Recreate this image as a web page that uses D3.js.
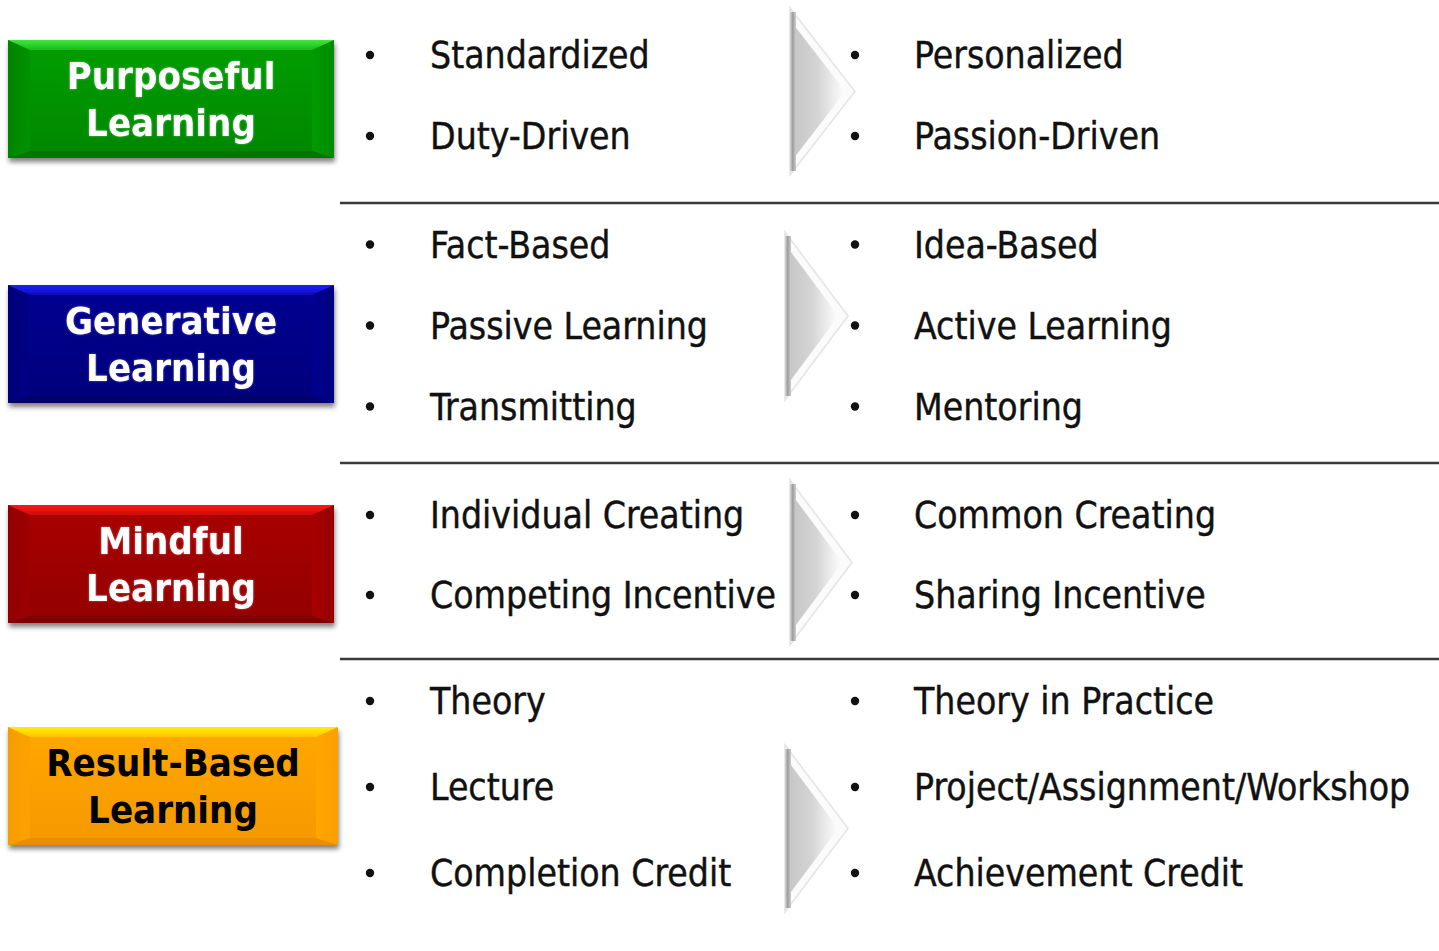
<!DOCTYPE html>
<html>
<head>
<meta charset="utf-8">
<script src="https://cdn.jsdelivr.net/npm/d3@7"></script>
<style>
  html, body { margin: 0; padding: 0; background: #fff; }
  svg { display: block; }
</style>
</head>
<body>
<svg id="chart" width="1439" height="951"></svg>
<script>
// ---- data ----
const categories = [
  ["Purposeful", "Learning"],
  ["Generative", "Learning"],
  ["Mindful", "Learning"],
  ["Result-Based", "Learning"]
];
const fromItems = [
  ["Standardized", "Duty-Driven"],
  ["Fact-Based", "Passive Learning", "Transmitting"],
  ["Individual Creating", "Competing Incentive"],
  ["Theory", "Lecture", "Completion Credit"]
];
const toItems = [
  ["Personalized", "Passion-Driven"],
  ["Idea-Based", "Active Learning", "Mentoring"],
  ["Common Creating", "Sharing Incentive"],
  ["Theory in Practice", "Project/Assignment/Workshop", "Achievement Credit"]
];
const boxPalette = [
  { base: "#009c00", top: "#3ee83e", side: "#008400", bottom: "#007400", text: "#ffffff" },
  { base: "#000090", top: "#2020ff", side: "#000078", bottom: "#000068", text: "#ffffff" },
  { base: "#a80000", top: "#ff1a1a", side: "#900000", bottom: "#800000", text: "#ffffff" },
  { base: "#ffa600", top: "#fff000", side: "#f79c00", bottom: "#e88e00", text: "#000000" }
];

// ---- layout (code constants) ----
const W = 1439, H = 951;
const svg = d3.select("#chart");
const defs = svg.append("defs");

const rowCenter = [95.5, 325.5, 555, 787];
const itemPitch = [81, 81, 80, 86];
const boxRects = [
  { x: 8, y: 40, w: 326, h: 118 },
  { x: 8, y: 285, w: 326, h: 118 },
  { x: 8, y: 505, w: 326, h: 118 },
  { x: 8, y: 727, w: 330, h: 118 }
];
const arrows = [
  { x: 790, y0: 8, y1: 175, w: 65 },
  { x: 785, y0: 232, y1: 400, w: 63 },
  { x: 790, y0: 480, y1: 645, w: 62 },
  { x: 785, y0: 745, y1: 912, w: 63 }
];
const separators = [203, 463, 659];
const xScale = d3.scaleLinear().domain([0, 1]).range([340, W]);

// filters
const sh = defs.append("filter").attr("id", "shadow").attr("x", "-10%").attr("y", "-10%").attr("width", "120%").attr("height", "130%");
sh.append("feGaussianBlur").attr("in", "SourceAlpha").attr("stdDeviation", 2.5).attr("result", "b");
sh.append("feOffset").attr("in", "b").attr("dx", 1).attr("dy", 4).attr("result", "o");
sh.append("feComponentTransfer").attr("in", "o").attr("result", "o2")
  .append("feFuncA").attr("type", "linear").attr("slope", 0.5);
const m = sh.append("feMerge");
m.append("feMergeNode").attr("in", "o2");
m.append("feMergeNode").attr("in", "SourceGraphic");

const glow = defs.append("filter").attr("id", "glow").attr("x", "-10%").attr("y", "-20%").attr("width", "120%").attr("height", "140%");
glow.append("feGaussianBlur").attr("in", "SourceAlpha").attr("stdDeviation", 1.3).attr("result", "gb");
glow.append("feFlood").attr("flood-color", "#ffffff").attr("flood-opacity", 0.4);
glow.append("feComposite").attr("in2", "gb").attr("operator", "in").attr("result", "g");
const gm = glow.append("feMerge");
gm.append("feMergeNode").attr("in", "g");
gm.append("feMergeNode").attr("in", "SourceGraphic");

const soft = defs.append("filter").attr("id", "soft");
soft.append("feGaussianBlur").attr("stdDeviation", 0.7);

const arrowGrad = defs.append("linearGradient").attr("id", "arrowGrad")
  .attr("x1", "0%").attr("x2", "100%").attr("y1", "0%").attr("y2", "0%");
arrowGrad.append("stop").attr("offset", "0%").attr("stop-color", "#c4c4c4");
arrowGrad.append("stop").attr("offset", "50%").attr("stop-color", "#d4d4d4");
arrowGrad.append("stop").attr("offset", "100%").attr("stop-color", "#ffffff");

const stripeGrad = defs.append("linearGradient").attr("id", "stripeGrad")
  .attr("x1", "0%").attr("x2", "100%");
stripeGrad.append("stop").attr("offset", "0%").attr("stop-color", "#d8d8d8");
stripeGrad.append("stop").attr("offset", "45%").attr("stop-color", "#9c9c9c");
stripeGrad.append("stop").attr("offset", "100%").attr("stop-color", "#cfcfcf");

// ---- boxes ----
const bevX = 22, bevT = 10, bevB = 7;
categories.forEach((lines, i) => {
  const r = boxRects[i], c = boxPalette[i];
  const g = svg.append("g").attr("filter", "url(#shadow)");
  const x0 = r.x, y0 = r.y, x1 = r.x + r.w, y1 = r.y + r.h;

  const tg = defs.append("linearGradient").attr("id", "tg" + i).attr("x1", 0).attr("x2", 0).attr("y1", 0).attr("y2", 1);
  tg.append("stop").attr("offset", "0%").attr("stop-color", c.top);
  tg.append("stop").attr("offset", "100%").attr("stop-color", d3.interpolateRgb(c.top, c.base)(0.6));
  const cg = defs.append("linearGradient").attr("id", "cg" + i).attr("x1", 0).attr("x2", 0).attr("y1", 0).attr("y2", 1);
  cg.append("stop").attr("offset", "0%").attr("stop-color", c.base);
  cg.append("stop").attr("offset", "100%").attr("stop-color", d3.interpolateRgb(c.base, c.bottom)(0.5));
  const lg = defs.append("linearGradient").attr("id", "lg" + i).attr("x1", 0).attr("x2", 1).attr("y1", 0).attr("y2", 0);
  lg.append("stop").attr("offset", "0%").attr("stop-color", c.side);
  lg.append("stop").attr("offset", "100%").attr("stop-color", d3.interpolateRgb(c.side, c.base)(0.6));
  const rg = defs.append("linearGradient").attr("id", "rg" + i).attr("x1", 1).attr("x2", 0).attr("y1", 0).attr("y2", 0);
  rg.append("stop").attr("offset", "0%").attr("stop-color", d3.interpolateRgb(c.side, c.base)(0.3));
  rg.append("stop").attr("offset", "100%").attr("stop-color", c.base);

  g.append("rect").attr("x", x0).attr("y", y0).attr("width", r.w).attr("height", r.h).attr("fill", c.base);
  g.append("path").attr("d", `M${x0},${y0}L${x0 + bevX},${y0 + bevT}L${x0 + bevX},${y1 - bevB}L${x0},${y1}Z`).attr("fill", `url(#lg${i})`);
  g.append("path").attr("d", `M${x1},${y0}L${x1 - bevX},${y0 + bevT}L${x1 - bevX},${y1 - bevB}L${x1},${y1}Z`).attr("fill", `url(#rg${i})`);
  g.append("rect").attr("x", x0 + bevX).attr("y", y0 + bevT).attr("width", r.w - 2 * bevX).attr("height", r.h - bevT - bevB)
    .attr("fill", `url(#cg${i})`);
  g.append("path").attr("d", `M${x0},${y0}L${x1},${y0}L${x1 - bevX},${y0 + bevT}L${x0 + bevX},${y0 + bevT}Z`).attr("fill", `url(#tg${i})`);
  g.append("path").attr("d", `M${x0},${y1}L${x1},${y1}L${x1 - bevX},${y1 - bevB}L${x0 + bevX},${y1 - bevB}Z`).attr("fill", c.bottom);

  const cx = (x0 + x1) / 2;
  const isDark = c.text === "#000000";
  const t = svg.append("text")
    .attr("x", cx).attr("text-anchor", "middle")
    .attr("font-family", "'DejaVu Sans Condensed', 'DejaVu Sans', sans-serif")
    .attr("font-size", 38)
    .attr("font-weight", "bold")
    .attr("fill", c.text)
    .attr("filter", isDark ? null : "url(#glow)");
  lines.forEach((ln, k) => {
    t.append("tspan").attr("x", cx).attr("y", (y0 + y1) / 2 - 10 + k * 47).text(ln);
  });
});

// ---- separators ----
svg.selectAll("line.sep").data(separators).join("line")
  .attr("class", "sep")
  .attr("x1", xScale(0)).attr("x2", xScale(1))
  .attr("y1", d => d).attr("y2", d => d)
  .attr("stroke", "#3a3a3a").attr("stroke-width", 2.5);

// ---- arrows ----
arrows.forEach(a => {
  const mid = (a.y0 + a.y1) / 2;
  const g = svg.append("g").attr("filter", "url(#soft)");
  g.append("path").attr("d", `M${a.x},${a.y0}L${a.x + a.w},${mid}L${a.x},${a.y1}Z`)
    .attr("fill", "#fbfbfb").attr("stroke", "#e4e4e4").attr("stroke-width", 1.5);
  const ins = 6;
  g.append("path").attr("d", `M${a.x},${a.y0 + ins * 2}L${a.x + a.w - ins * 1.6},${mid}L${a.x},${a.y1 - ins * 2}Z`)
    .attr("fill", "url(#arrowGrad)");
  g.append("rect").attr("x", a.x).attr("y", a.y0 + 4).attr("width", 6).attr("height", a.y1 - a.y0 - 8)
    .attr("fill", "url(#stripeGrad)");
});

// ---- items ----
const font = "'DejaVu Sans Condensed', 'DejaVu Sans', sans-serif";
function drawList(items, bulletX, textX) {
  items.forEach((list, i) => {
    const n = list.length;
    const y = d3.scalePoint().domain(d3.range(n))
      .range([rowCenter[i] - (n - 1) / 2 * itemPitch[i], rowCenter[i] + (n - 1) / 2 * itemPitch[i]]);
    const g = svg.append("g");
    g.selectAll("circle").data(list).join("circle")
      .attr("cx", bulletX).attr("cy", (d, k) => y(k))
      .attr("r", 4.2).attr("fill", "#111");
    g.selectAll("text").data(list).join("text")
      .attr("x", textX).attr("y", (d, k) => y(k) + 13)
      .attr("font-family", font).attr("font-size", 37)
      .attr("fill", "#111").attr("stroke", "#111").attr("stroke-width", 0.4)
      .text(d => d);
  });
}
drawList(fromItems, 370, 430);
drawList(toItems, 855, 914);
</script>
</body>
</html>
